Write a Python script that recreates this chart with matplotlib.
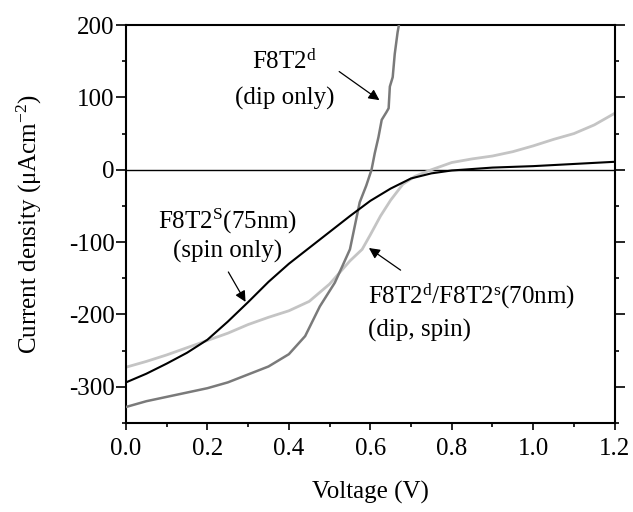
import matplotlib
matplotlib.use("Agg")
import matplotlib.pyplot as plt
from matplotlib.ticker import MultipleLocator

plt.rcParams["font.family"] = "Liberation Serif"
plt.rcParams["mathtext.fontset"] = "custom"
plt.rcParams["mathtext.rm"] = "Liberation Serif"
plt.rcParams["mathtext.it"] = "Liberation Serif:italic"

# spin only, F8T2^s (75nm) -- black
v_spin = [0, 0.05, 0.1, 0.15, 0.2, 0.25, 0.3, 0.35, 0.4, 0.45, 0.5, 0.55, 0.6,
          0.65, 0.7, 0.75, 0.8, 0.9, 1.0, 1.1, 1.2]
j_spin = [-294, -282, -268, -253, -235, -210, -183, -155, -130, -108, -86, -64, -43,
          -26, -12, -5, -1, 3, 5, 8, 11]

# dip, spin, F8T2^d/F8T2^s (70nm) -- light grey
v_both = [0, 0.05, 0.1, 0.15, 0.2, 0.25, 0.3, 0.35, 0.4, 0.45, 0.5, 0.55, 0.58, 0.6,
          0.625, 0.65, 0.68, 0.71, 0.75, 0.8, 0.85, 0.9, 0.95, 1.0, 1.05, 1.1, 1.15, 1.2]
j_both = [-273, -265, -256, -246, -236, -226, -214, -204, -195, -182, -158, -126, -110, -90,
          -64, -42, -20, -9, 0, 10, 15, 19, 25, 33, 42, 50, 62, 78]

# dip only, F8T2^d -- dark grey
v_dip = [0, 0.05, 0.1, 0.15, 0.2, 0.25, 0.3, 0.35, 0.4, 0.44, 0.476, 0.513, 0.53, 0.55,
         0.574, 0.59, 0.603, 0.611, 0.62, 0.628, 0.64, 0.645, 0.648, 0.655, 0.66, 0.667, 0.675]
j_dip = [-328, -320, -314, -308, -302, -294, -283, -272, -255, -230, -189, -156, -135, -110,
         -45, -22, 0, 23, 45, 69, 80, 85, 115, 128, 160, 190, 215]

fig = plt.figure(figsize=(6.33, 5.12), dpi=100)
ax = fig.add_axes([0.199, 0.174, 0.772, 0.777])

ax.axhline(0, color="black", lw=1.0, zorder=1)
ax.plot(v_both, j_both, color="#c4c4c4", lw=2.0, zorder=2)
ax.plot(v_dip, j_dip, color="#7a7a7a", lw=1.8, zorder=3)
ax.plot(v_spin, j_spin, color="black", lw=1.5, zorder=4)

ax.set_xlim(0, 1.2)
ax.set_ylim(-350, 200)
ax.xaxis.set_major_locator(MultipleLocator(0.2))
ax.xaxis.set_minor_locator(MultipleLocator(0.1))
ax.yaxis.set_major_locator(MultipleLocator(100))
ax.yaxis.set_minor_locator(MultipleLocator(50))
ax.xaxis.set_major_formatter(plt.FuncFormatter(lambda v, p: f"{v:.1f}"))
ax.yaxis.set_major_formatter(plt.FuncFormatter(lambda v, p: f"{v:.0f}"))

ax.tick_params(axis="both", which="both", direction="out", labelsize=18, width=1.2)
ax.tick_params(axis="y", which="major", length=7, pad=1, right=True)
ax.tick_params(axis="y", which="minor", length=3, right=True)
ax.tick_params(axis="x", which="major", length=5, pad=6)
ax.tick_params(axis="x", which="minor", length=3)
for s in ax.spines.values():
    s.set_linewidth(1.5)

ax.set_xlabel("Voltage (V)", fontsize=18, labelpad=15)
ax.set_ylabel(r"Current density ($\mathrm{\mu}$Acm$^{\mathrm{-2}}$)", fontsize=18, labelpad=18)

fs = 18
ax.text(0.39, 149, r"F8T2$^{\mathrm{d}}$", fontsize=fs, ha="center", va="center")
ax.text(0.39, 98, "(dip only)", fontsize=fs, ha="center", va="center")
ax.annotate("", xy=(0.628, 94), xytext=(0.518, 138),
            arrowprops=dict(arrowstyle="-|>", color="black", lw=0.9, mutation_scale=16))

ax.text(0.25, -72, r"F8T2$^{\mathrm{S}}$(75nm)", fontsize=fs, ha="center", va="center")
ax.text(0.25, -113, "(spin only)", fontsize=fs, ha="center", va="center")
ax.annotate("", xy=(0.297, -186), xytext=(0.248, -138),
            arrowprops=dict(arrowstyle="-|>", color="black", lw=0.9, mutation_scale=16))

ax.text(0.594, -175, r"F8T2$^{\mathrm{d}}$/F8T2$^{\mathrm{s}}$(70nm)", fontsize=fs, ha="left", va="center")
ax.text(0.594, -222, "(dip, spin)", fontsize=fs, ha="left", va="center")
ax.annotate("", xy=(0.591, -106), xytext=(0.68, -141),
            arrowprops=dict(arrowstyle="-|>", color="black", lw=0.9, mutation_scale=16))

fig.savefig("out.png", dpi=100)
